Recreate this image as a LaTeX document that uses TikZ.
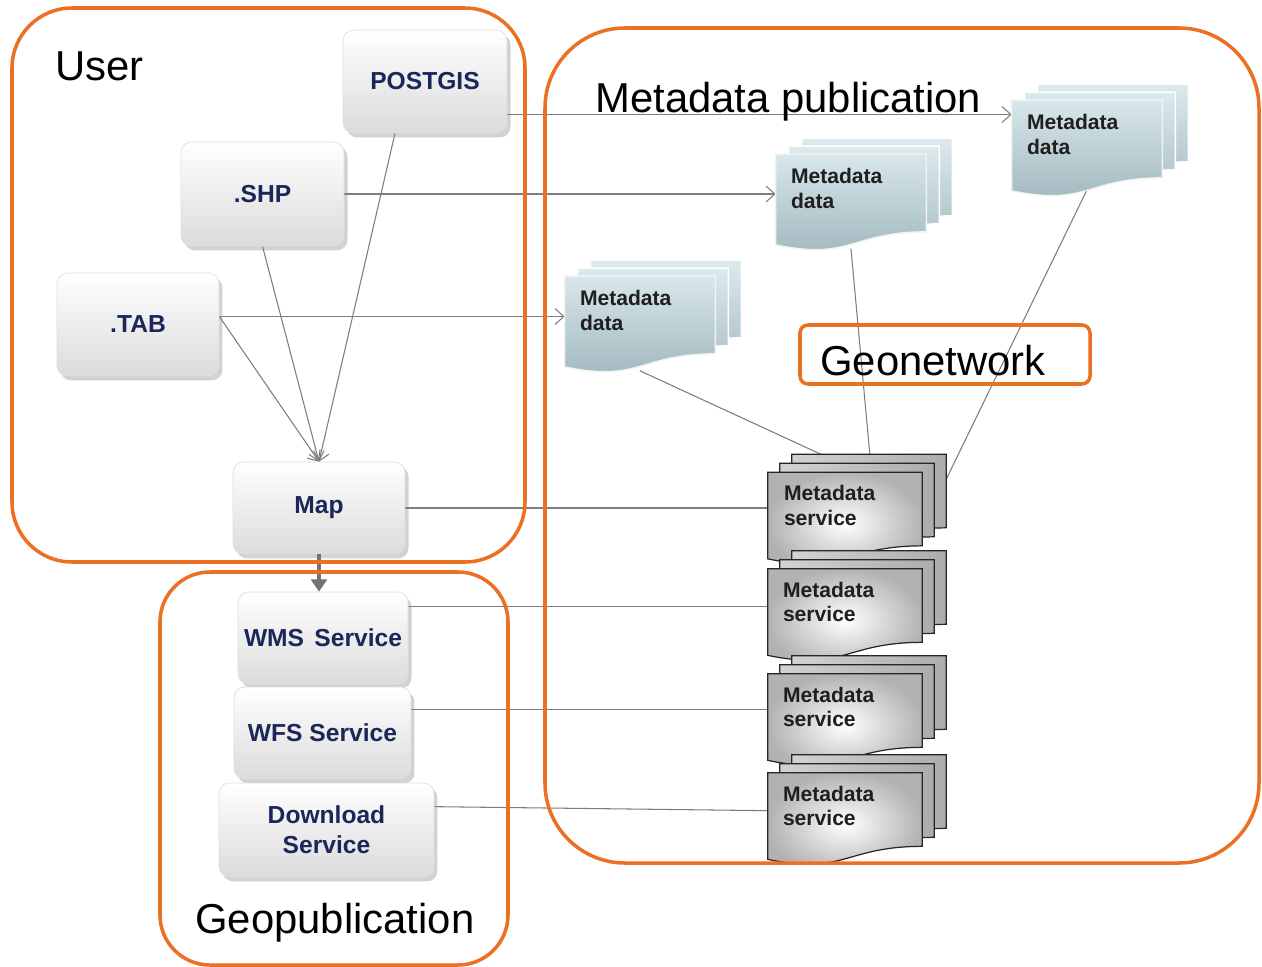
\documentclass[tikz,border=0pt]{standalone}
\usepackage{fontspec}
\setmainfont{Liberation Sans}
\usetikzlibrary{calc,arrows.meta,shadows}
\definecolor{orng}{RGB}{236,112,36}
\definecolor{navy}{RGB}{27,38,89}
\definecolor{conngray}{RGB}{125,125,125}
\definecolor{mdtop}{RGB}{216,231,235}
\definecolor{mdbot}{RGB}{158,182,188}
\pgfdeclarelayer{bglayer}
\pgfdeclarelayer{lineslayer}
\pgfdeclarelayer{docslayer}
\pgfsetlayers{bglayer,lineslayer,docslayer,main}
\newcommand\docoutline[3]{($(#1.north west)+(#2,#3)$) -- ($(#1.north east)+(#2,#3)$) -- ($(#1.south east)+(#2,#3-17)$) .. controls ($(#1.south)+(#2,#3-17)$) and ($(#1.south)+(#2,#3+12)$) .. ($(#1.south west)+(#2,#3-4)$) -- cycle}
\tikzset{
  x=0.02cm, y=-0.02cm,
  container/.style={draw=orng, line width=2pt, rounded corners=#1},
  box/.style={rounded corners=6pt, draw=gray!25, top color=white, bottom color=gray!28,
    drop shadow={opacity=0.35, shadow xshift=2pt, shadow yshift=-2.5pt},
    font=\fontsize{14}{17}\selectfont\bfseries, text=navy, align=center, inner sep=2pt},
  mdnode/.style={minimum width=3cm, minimum height=1.88cm, inner sep=0pt},
  msnode/.style={minimum width=3.08cm, minimum height=1.8cm, inner sep=0pt},
  doctext/.style={font=\fontsize{12}{14}\selectfont\bfseries, align=left, inner sep=0pt, text=black!88, anchor=north west},
  bigtxt/.style={font=\fontsize{23.8}{28}\selectfont, inner sep=0pt, anchor=base west, text=black},
  mdback/.style={top color=mdtop!90!white, bottom color=mdbot!90!white, draw=white, line width=0.8pt},
  mdfront/.style={top color=mdtop, bottom color=mdbot, draw=white!90!gray, line width=0.8pt},
  msback/.style={left color=gray!35, right color=gray!65, draw=black!85, line width=0.7pt},
  msfront/.style={inner color=white, outer color=gray!60, draw=black!85, line width=0.7pt},
  conn/.style={draw=conngray, line width=0.6pt},
  barb/.style={-{Straight Barb[length=5pt,width=9pt]}},
}
\begin{document}
\begin{tikzpicture}
\begin{pgfonlayer}{bglayer}
\fill[white] (0,0) rectangle (1262,967);
\end{pgfonlayer}
\useasboundingbox (0,0) rectangle (1262,967);

% source boxes
\node[box, minimum width=3.28cm, minimum height=2.06cm] (postgis) at (425,81.5) {POSTGIS};
\node[box, minimum width=3.26cm, minimum height=2.08cm] (shp) at (262.5,194) {.SHP};
\node[box, minimum width=3.24cm, minimum height=2.06cm] (tab) at (138,324.5) {.TAB};
\node[box, minimum width=3.44cm, minimum height=1.84cm] (map) at (319,508) {Map};
\node[box, minimum width=3.4cm, minimum height=1.84cm] (wms) at (323,638) {WMS\hspace{2pt} Service};
\node[box, minimum width=3.54cm, minimum height=1.84cm] (wfs) at (322.5,733) {WFS Service};
\node[box, minimum width=4.3cm, minimum height=1.88cm] (dl) at (326.5,830) {Download\\Service};

% metadata data documents
\node[mdnode] (md1) at (1087,147.5) {};
\node[mdnode] (md2) at (851,201.5) {};
\node[mdnode] (md3) at (640,323.5) {};
\node[doctext] (md1t) at ($(md1.north west)+(15,14)$) {Metadata\\data};
\node[doctext] (md2t) at ($(md2.north west)+(15,14)$) {Metadata\\data};
\node[doctext] (md3t) at ($(md3.north west)+(15,14)$) {Metadata\\data};

% metadata service documents
\node[msnode] (ms1) at (845,517.5) {};
\node[msnode] (ms2) at (845,614) {};
\node[msnode] (ms3) at (845,719) {};
\node[msnode] (ms4) at (845,818) {};
\node[doctext] (ms1t) at ($(ms1.north west)+(16,13)$) {Metadata\\service};
\node[doctext] (ms2t) at ($(ms2.north west)+(15,13)$) {Metadata\\service};
\node[doctext] (ms3t) at ($(ms3.north west)+(15,13)$) {Metadata\\service};
\node[doctext] (ms4t) at ($(ms4.north west)+(15,13)$) {Metadata\\service};

% labels
\node[bigtxt] (userlbl) at (55,80) {User};
\node[bigtxt] (mplbl) at (595,112) {Metadata publication};
\node[bigtxt] (gnlbl) at (820,375) {Geonetwork};
\node[bigtxt] (gplbl) at (195,933) {Geopublication};

% document shapes
\begin{pgfonlayer}{docslayer}
  \foreach \d in {md1,md2,md3}{
    \path[mdback] \docoutline{\d}{26}{-16};
    \path[mdback] \docoutline{\d}{13}{-8};
    \path[mdfront] \docoutline{\d}{0}{0};
  }
  \foreach \d in {ms1,ms2,ms3,ms4}{
    \path[msback] \docoutline{\d}{24}{-18};
    \path[msback] \docoutline{\d}{12}{-9};
    \path[msfront] \docoutline{\d}{0}{0};
  }
\end{pgfonlayer}

% connectors
\begin{pgfonlayer}{lineslayer}
  \coordinate (a1) at ($(postgis.east)+(0,33)$);
  \coordinate (a2) at (shp.east);
  \coordinate (a3) at ($(tab.east)+(0,-8)$);
  \draw[conn,barb] (a1) -- (a1 -| md1.west);
  \draw[conn,barb] (a2) -- (a2 -| md2.west);
  \draw[conn,barb] (a3) -- (a3 -| md3.west);
  \draw[conn,barb] (a3) -- (map.north);
  \draw[conn,barb] (shp.south) -- (map.north);
  \draw[conn,barb] ($(postgis.south)+(-30,0)$) -- (map.north);
  \draw[conn] (map.east) -- (map.east -| ms1.west);
  \coordinate (b1) at ($(wms.north east)+(0,15)$);
  \coordinate (b2) at ($(wfs.north east)+(0,23)$);
  \coordinate (b3) at ($(dl.north east)+(0,24)$);
  \draw[conn] (b1) -- (b1 -| ms2.west);
  \draw[conn] (b2) -- (b2 -| ms3.west);
  \draw[conn] (b3) -- ($(b3 -| ms4.west)+(0,4)$);
  \draw[conn] (md3.south) -- ($(ms1.north)+(-20,-16)$);
  \draw[conn] (md2.south) -- ($(ms1.north)+(25,-16)$);
  \draw[conn] ($(md1.south)+(0,-5)$) -- ($(ms1.north east)+(3,50)$);
\end{pgfonlayer}

\draw[line width=1.8pt, draw=black!55, -{Triangle[length=7pt,width=9pt,fill=black!55]}] (map.south) -- (map.south |- wms.north);

% containers
\draw[container=1.2cm] (12,8) rectangle (525,562);
\draw[container=1cm] (160,572) rectangle (508,965);
\draw[container=1.6cm] (545,28) rectangle (1259,863);
\draw[container=0.16cm] (800,325) rectangle (1090,384);
\end{tikzpicture}
\end{document}
